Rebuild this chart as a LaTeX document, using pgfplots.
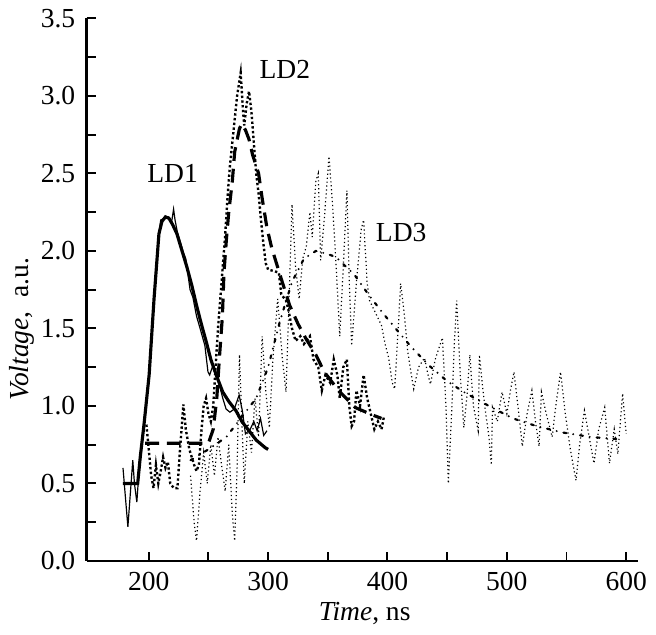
\documentclass[border=0pt]{standalone}
\usepackage{pgfplots}
\pgfplotsset{compat=1.18}
\usepackage{fontspec}
\setmainfont{Liberation Serif}
\begin{document}
\fontsize{14}{16}\selectfont
\begin{tikzpicture}
\begin{axis}[
  scale only axis,
  width=279.5bp, height=275bp,
  xmin=148, xmax=610, ymin=0, ymax=3.5,
  axis x line=bottom, axis y line=left,
  axis line style={-, line width=1.4bp},
  tick align=inside,
  major tick length=4.5bp,
  tick style={line width=1bp, black},
  xtick={200,250,...,600},
  xticklabels={200,,300,,400,,500,,600},
  ytick={0,0.25,...,3.5},
  yticklabels={0.0,,0.5,,1.0,,1.5,,2.0,,2.5,,3.0,,3.5},
  /pgf/number format/assume math mode=true,
  ticklabel style={font=\fontsize{14}{16}\selectfont},
  xticklabel style={yshift=-1bp},
  yticklabel style={xshift=-1bp},
  every axis x label/.style={at={(axis description cs:0.504,-0.097)}, anchor=center, font=\fontsize{14}{16}\selectfont},
  every axis y label/.style={at={(axis description cs:-0.118,0.427)}, rotate=90, anchor=center, font=\fontsize{14}{16}\selectfont},
  xlabel={\textit{Time}, ns},
  ylabel={\textit{Voltage},\ \ a.u.},
  clip=false,
]
% LD1 data (thin solid)
\addplot[black, line width=0.6bp] coordinates {
(178.4,0.6) (182.5,0.22) (186.6,0.65) (188,0.5) (190,0.38) (192,0.6) (196,0.86)
(200,1.18) (204,1.65) (208,2.08) (210,2.2) (213,2.21) (216.7,2.22) (219,2.18) (220.8,2.27) (222,2.2)
(224,2.12) (226,2.07) (229,1.99) (231,1.95) (234.6,1.75) (237,1.7) (240,1.58) (243,1.5) (247,1.39)
(249.6,1.22) (251,1.2) (253.7,1.26) (256,1.2) (259,1.14) (262,1.05) (264.8,0.98) (268,0.96) (271.6,0.98)
(275.7,1.07) (278.4,0.97) (281,0.82) (285,0.85) (288,0.9) (290.8,0.84) (293.6,0.92) (296.3,0.81) (299,0.84)
};
% LD1 fit (thick solid)
\addplot[black, line width=1.6bp] coordinates {
(178.4,0.5) (190.7,0.5) (193,0.68) (196,0.88) (200.3,1.2) (204.4,1.69) (208.5,2.11) (211,2.19) (214,2.22)
(217,2.21) (220,2.17) (223.6,2.11) (227.5,2.01) (231.8,1.9) (236,1.78) (240,1.65) (244,1.53) (248.3,1.41)
(252,1.3) (256.5,1.2) (262,1.09) (267,1.03) (273,0.97) (278,0.9) (284,0.84) (290,0.78) (297.7,0.73) (300,0.72)
};
% LD2 data (dotted, heavy)
\addplot[black, line width=1.2bp, dash pattern=on 1.2bp off 1.2bp] coordinates {
(198,0.88) (200,0.72) (202,0.55) (204,0.47) (206,0.62) (208,0.5) (210,0.58) (212,0.67) (214,0.6)
(216,0.64) (218,0.5) (221,0.47) (224,0.47) (226,0.7) (229,1.01) (231,0.85) (234,0.72) (236,0.67)
(238,0.62) (240,0.58) (242,0.62) (244,0.83) (246,1.0) (248,1.05) (250,0.95) (252,0.9) (254,1.0)
(256,1.25) (258,1.5) (260,1.7) (262,1.9) (264,2.1) (266,2.35) (268,2.55) (270,2.7) (272,2.85)
(274,3.0) (276,3.1) (277,3.15) (279,2.9) (280,2.81) (282,2.95) (284,3.03) (286,2.9) (288,2.7)
(290,2.5) (292,2.37) (294,2.2) (296,2.05) (298,1.92) (300,1.88) (305,1.87) (309,1.86) (311,1.72)
(315,1.68) (317,1.62) (320,1.5) (323,1.42) (327,1.45) (330,1.4) (335,1.45) (338,1.3) (342,1.25)
(345,1.1) (348,1.2) (352,1.15) (355,1.3) (358,1.2) (360,1.05) (363,1.25) (366,1.3) (368,1.0)
(370,0.87) (372,0.9) (374,1.1) (377,1.0) (380,1.2) (383,1.05) (386,0.95) (389,0.85) (392,0.9)
(395,0.85) (397,0.93)
};
% LD2 fit (thick dashed)
\addplot[black, line width=1.6bp, dash pattern=on 7bp off 4bp] coordinates {
(197,0.76) (250,0.76) (254,0.85) (257,1.05) (259,1.29) (261.7,1.58) (263,1.86) (265,2.07) (267,2.25)
(270,2.45) (272,2.64) (276,2.79) (278,2.82) (281,2.78) (284,2.72) (287,2.62) (292,2.5) (295,2.34)
(299,2.15) (303,2.02) (307,1.92) (311,1.82) (318,1.65) (325,1.53) (332,1.43) (340,1.33) (347,1.22)
(359,1.10) (373,0.99) (388,0.94) (395,0.92)
};
% LD3 data (fine dotted)
\addplot[black, line width=0.6bp, dash pattern=on 0.6bp off 1.4bp] coordinates {
(235,0.55) (238,0.25) (240,0.13) (243,0.45) (246,0.7) (249,0.5) (252,0.75) (255,0.55) (258,0.8)
(261,0.62) (264,0.45) (267,0.75) (270,0.3) (272,0.13) (274,0.6) (276,1.33) (278,0.9) (280,0.5)
(283,0.9) (286,0.7) (289,1.05) (292,0.8) (295,1.45) (298,1.1) (301,0.86) (304,1.3) (308,1.69)
(312,1.3) (315,1.09) (318,1.8) (320,2.3) (323,1.9) (326,1.69) (329,1.95) (332,2.03) (335,2.25)
(337,2.09) (340,2.45) (342,2.5) (344,1.94) (347,2.2) (351,2.61) (354,2.3) (357,1.9) (360,1.45)
(363,1.9) (366,2.39) (368,1.8) (370,1.39) (374,1.8) (378,2.14) (380,2.2) (383,1.79) (385,1.68)
(390,1.6) (395,1.52) (398,1.4) (401,1.31) (404,1.15) (406,1.11) (409,1.5) (411,1.79) (414,1.6)
(417,1.35) (420,1.2) (422,1.11) (426,1.25) (431,1.31) (434,1.2) (436,1.14) (440,1.3) (446,1.44)
(449,1.0) (451,0.5) (454,1.0) (456,1.4) (458,1.68) (461,1.2) (464,0.86) (467,1.1) (469,1.33)
(472,1.0) (476,0.84) (477,1.33) (480,1.1) (482,0.97) (485,0.8) (487,0.62) (488,0.99) (492,0.9)
(496,1.09) (500,0.95) (503,1.1) (506,1.22) (510,0.95) (513,0.74) (517,0.95) (521,1.10) (524,0.9)
(527,0.74) (529,1.09) (533,0.95) (538,0.80) (541,1.0) (545,1.22) (549,0.95) (553,0.73) (556,0.6)
(558,0.52) (561,0.75) (565,0.97) (569,0.8) (573,0.63) (577,0.85) (582,0.99) (586,0.63) (590,0.85)
(593,0.69) (597,1.08) (600,0.82)
};
% LD3 fit (sparse dash-dot)
\addplot[black, line width=1.1bp, line cap=round, dash pattern=on 1.5bp off 3.5bp on 0bp off 3.5bp] coordinates {
(235,0.65) (250,0.72) (265,0.8) (280,0.95) (290,1.05) (300,1.25) (310,1.55) (320,1.8) (330,1.95)
(340,2.0) (350,1.98) (357,1.96) (365,1.9) (372,1.85) (384,1.72) (396,1.6) (409,1.48) (420,1.38)
(435,1.26) (450,1.16) (464,1.09) (485,1.0) (505,0.92) (525,0.87) (546,0.83) (570,0.8) (595,0.785)
};
\node[font=\fontsize{14}{16}\selectfont] at (axis cs:220,2.5) {LD1};
\node[font=\fontsize{14}{16}\selectfont] at (axis cs:314,3.17) {LD2};
\node[font=\fontsize{14}{16}\selectfont] at (axis cs:411.5,2.12) {LD3};
\end{axis}
\end{tikzpicture}
\end{document}
